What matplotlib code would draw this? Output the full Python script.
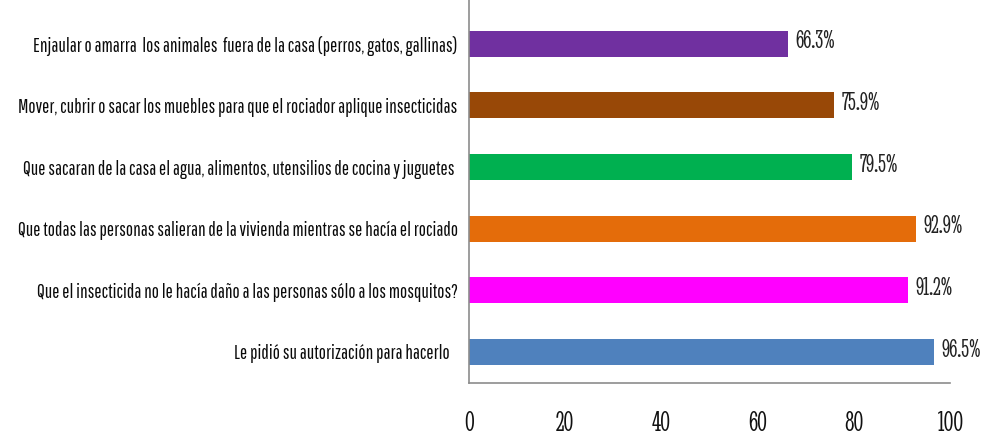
import matplotlib
matplotlib.use("Agg")
import matplotlib.pyplot as plt

# survey answers, top to bottom
labels = [
    "Enjaular o amarra  los animales  fuera de la casa (perros, gatos, gallinas)",
    "Mover, cubrir o sacar los muebles para que el rociador aplique insecticidas",
    "Que sacaran de la casa el agua, alimentos, utensilios de cocina y juguetes ",
    "Que todas las personas salieran de la vivienda mientras se hacía el rociado",
    "Que el insecticida no le hacía daño a las personas sólo a los mosquitos?",
    "Le pidió su autorización para hacerlo   ",
]
values = [66.3, 75.9, 79.5, 92.9, 91.2, 96.5]
colors = ["#7030A0", "#984807", "#00B050", "#E46C0A", "#FF00FF", "#4F81BD"]
xticks = [0, 20, 40, 60, 80, 100]

label_font = "Pathway Gothic One"
num_font = "Stint Ultra Condensed"

fig = plt.figure(figsize=(9.87, 4.37), dpi=100)
ax = fig.add_axes([0.475, 0.124, 0.488, 0.876])

n = len(values)
ypos = list(range(n - 1, -1, -1))
ax.barh(ypos, values, height=0.42, color=colors)

# percentage next to each bar
for y, v in zip(ypos, values):
    ax.text(v + 1.6, y + 0.03, f"{v}%", va="center", ha="left",
            fontsize=19, family=num_font, color="#222222")

ax.set_xlim(0, 100)
ax.set_ylim(-0.5, 5.71)
ax.set_yticks(ypos)
ax.set_yticklabels(labels, family=label_font, fontsize=13.8, color="#0A0A0A")
ax.set_xticks(xticks)
ax.set_xticklabels([str(t) for t in xticks], family=num_font,
                   fontsize=21, color="#111111")
ax.tick_params(axis="x", length=0, pad=20)
ax.tick_params(axis="y", length=0, pad=8)

for s in ["top", "right"]:
    ax.spines[s].set_visible(False)
for s in ["left", "bottom"]:
    ax.spines[s].set_color("#8C8C8C")
    ax.spines[s].set_linewidth(1.2)

fig.savefig("out.png", dpi=100)
